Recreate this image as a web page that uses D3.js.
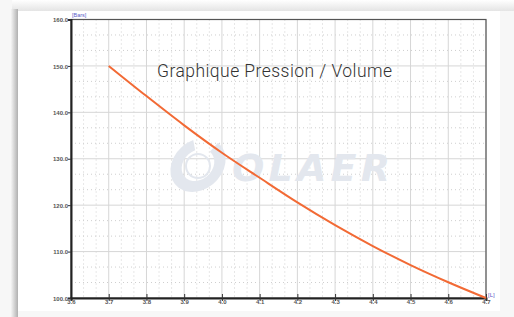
<!DOCTYPE html>
<html>
<head>
<meta charset="utf-8">
<script src="https://cdn.jsdelivr.net/npm/d3@7"></script>
<style>
  body { margin: 0; background: #fff; }
  svg { display: block; }
</style>
</head>
<body>
<svg width="514" height="317"></svg>
<script>
// values
var volume = [3.7, 3.8, 3.9, 4.0, 4.1, 4.2, 4.3, 4.4, 4.5, 4.6, 4.7];
var pression = [150, 143.5, 137.2, 131.3, 125.9, 120.6, 115.7, 111.2, 107.1, 103.4, 100];
var xTicks = [3.6, 3.7, 3.8, 3.9, 4.0, 4.1, 4.2, 4.3, 4.4, 4.5, 4.6, 4.7];
var yTicks = [100, 110, 120, 130, 140, 150, 160];
var title = "Graphique Pression / Volume";

var svg = d3.select("svg"),
    width = +svg.attr("width"),
    height = +svg.attr("height");

var defs = svg.append("defs");
var g1 = defs.append("linearGradient").attr("id", "shadeLeft");
g1.append("stop").attr("offset", "0%").attr("stop-color", "#f4f4f4");
g1.append("stop").attr("offset", "100%").attr("stop-color", "#b0b0b0");
var g2 = defs.append("linearGradient").attr("id", "shadeTop")
    .attr("x1", 0).attr("x2", 0).attr("y1", 0).attr("y2", 1);
g2.append("stop").attr("offset", "0%").attr("stop-color", "#ffffff");
g2.append("stop").attr("offset", "100%").attr("stop-color", "#e4e4e4");

// page background + panel
svg.append("rect").attr("x", 0).attr("y", 0).attr("width", width).attr("height", height).attr("fill", "#f7f7f7");
svg.append("rect").attr("x", 12).attr("y", 0).attr("width", 502).attr("height", 11).attr("fill", "url(#shadeTop)");
svg.append("rect").attr("x", 11).attr("y", 9).attr("width", 7).attr("height", height - 9).attr("fill", "url(#shadeLeft)");
svg.append("rect").attr("x", 18).attr("y", 11).attr("width", 482).attr("height", 300).attr("fill", "#fff");

var x = d3.scaleLinear().domain([3.6, 4.7]).range([71, 486]);
var y = d3.scaleLinear().domain([100, 160]).range([298, 19.5]);

// minor dotted grid (thirds)
var minorX = [], minorY = [];
for (var i = 0; i < xTicks.length - 1; i++) {
    var s = (xTicks[i + 1] - xTicks[i]) / 3;
    minorX.push(xTicks[i] + s, xTicks[i] + 2 * s);
}
for (var j = 0; j < yTicks.length - 1; j++) {
    minorY.push(yTicks[j] + 10 / 3, yTicks[j] + 20 / 3);
}
var grid = svg.append("g").attr("class", "grid");
grid.selectAll("line.mx").data(minorX).enter().append("line")
    .attr("x1", function (d) { return x(d); }).attr("x2", function (d) { return x(d); })
    .attr("y1", y(160)).attr("y2", y(100))
    .attr("stroke", "#cfcfcf").attr("stroke-dasharray", "1,3");
grid.selectAll("line.my").data(minorY).enter().append("line")
    .attr("y1", function (d) { return y(d); }).attr("y2", function (d) { return y(d); })
    .attr("x1", x(3.6)).attr("x2", x(4.7))
    .attr("stroke", "#cfcfcf").attr("stroke-dasharray", "1,3");
grid.selectAll("line.vx").data(xTicks).enter().append("line")
    .attr("x1", function (d) { return x(d); }).attr("x2", function (d) { return x(d); })
    .attr("y1", y(160)).attr("y2", y(100))
    .attr("stroke", "#d6d6d6").attr("stroke-width", 1);
grid.selectAll("line.hy").data(yTicks).enter().append("line")
    .attr("y1", function (d) { return y(d); }).attr("y2", function (d) { return y(d); })
    .attr("x1", x(3.6)).attr("x2", x(4.7))
    .attr("stroke", "#d6d6d6").attr("stroke-width", 1);

// watermark logo
var wm = svg.append("g");
wm.append("path")
    .attr("d", d3.arc()({innerRadius: 16, outerRadius: 27, startAngle: 0.6, endAngle: 5.9}))
    .attr("transform", "translate(198,165) skewX(-12)")
    .attr("fill", "#e3e7ee");
wm.append("circle").attr("cx", 198).attr("cy", 166).attr("r", 12)
    .attr("fill", "none").attr("stroke", "#e3e7ee").attr("stroke-width", 2);
wm.append("text")
    .attr("x", 232).attr("y", 181)
    .attr("font-family", "DejaVu Sans").attr("font-weight", "bold").attr("font-style", "italic")
    .attr("font-size", 38)
    .attr("textLength", 158)
    .attr("fill", "#e3e7ee")
    .text("OLAER");

// frame
svg.append("rect").attr("x", x(3.6)).attr("y", y(160))
    .attr("width", x(4.7) - x(3.6)).attr("height", y(100) - y(160))
    .attr("fill", "none").attr("stroke", "#555").attr("stroke-width", 1.2);

// axes
var xAxis = d3.axisBottom(x).tickValues(xTicks).tickSize(3).tickFormat(d3.format(".1f"));
var yAxis = d3.axisLeft(y).tickValues(yTicks).tickSize(3).tickFormat(d3.format(".1f"));
var gx = svg.append("g").attr("transform", "translate(0," + y(100) + ")").call(xAxis);
var gy = svg.append("g").attr("transform", "translate(" + x(3.6) + ",0)").call(yAxis);
[gx, gy].forEach(function (g) {
    g.select(".domain").attr("stroke", "#222").attr("stroke-width", 2);
    g.selectAll(".tick line").attr("stroke", "#333");
    g.selectAll(".tick text")
        .attr("font-family", "Liberation Sans").attr("font-weight", "bold")
        .attr("font-size", 6).attr("fill", "#555");
});
gx.selectAll(".tick line").attr("y1", -4).attr("y2", 3);
gx.selectAll(".tick text").attr("dy", "0.1em").attr("y", 5);
gy.selectAll(".tick text").attr("x", -3).attr("dy", "0.35em");

// unit labels
svg.append("text").attr("x", x(3.6) + 1).attr("y", 17)
    .attr("font-family", "Liberation Sans").attr("font-size", 5.5).attr("fill", "#5a5ac8")
    .text("[Bars]");
svg.append("text").attr("x", x(4.7) + 2).attr("y", y(100) - 1)
    .attr("font-family", "Liberation Sans").attr("font-size", 6).attr("fill", "#5a5ac8")
    .text("[L]");

// curve
var pts = volume.map(function (v, k) { return [v, pression[k]]; });
svg.append("path")
    .datum(pts)
    .attr("fill", "none")
    .attr("stroke", "#f26a35")
    .attr("stroke-width", 2)
    .attr("d", d3.line()
        .x(function (d) { return x(d[0]); })
        .y(function (d) { return y(d[1]); })
        .curve(d3.curveMonotoneX));

// title
svg.append("text")
    .attr("x", 157).attr("y", 77)
    .attr("font-family", "Roboto").attr("font-weight", 300)
    .attr("font-size", 17.5).attr("fill", "#333")
    .attr("textLength", 235).attr("lengthAdjust", "spacing")
    .text(title);
</script>
</body>
</html>
